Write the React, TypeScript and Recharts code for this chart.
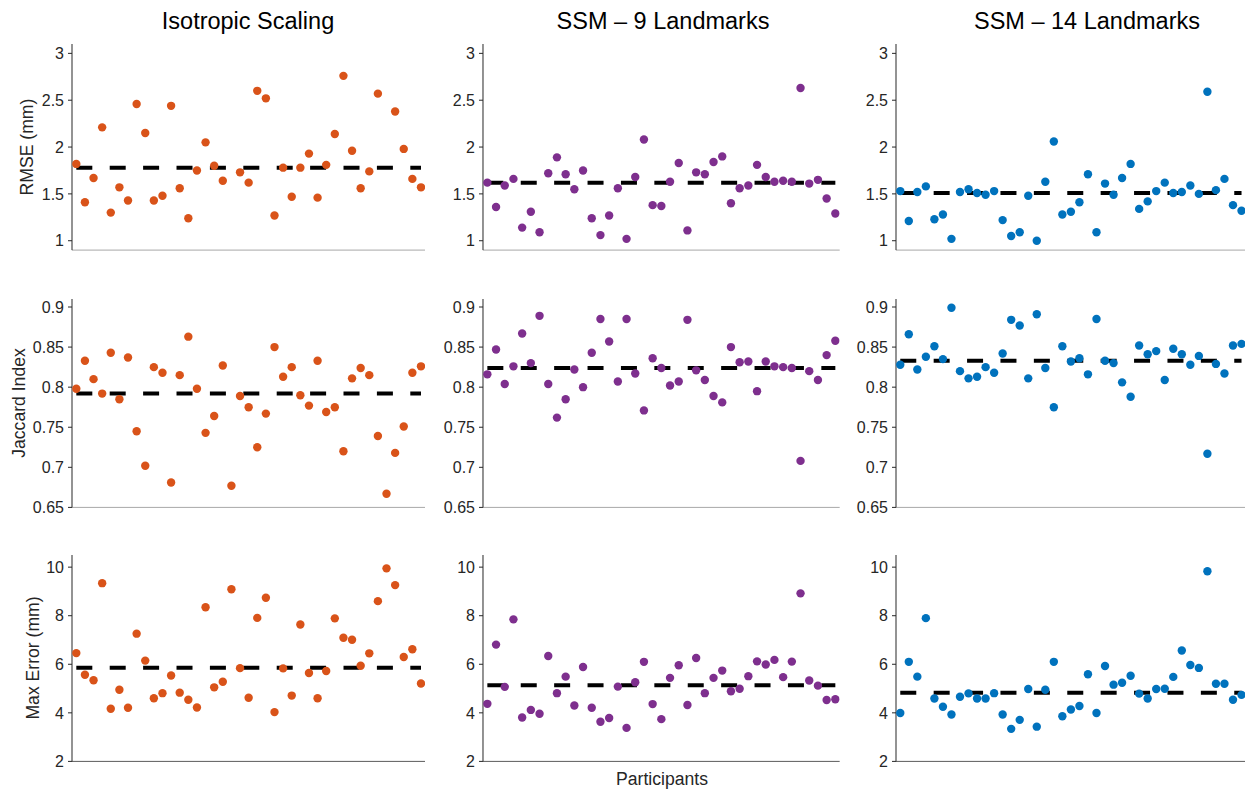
import React from "react";
import { ReferenceLine, Scatter, ScatterChart, XAxis, YAxis } from "recharts";

// Per-participant scores (41 participants). null = value above the plotted range.
const rmseIso = [1.82, 1.41, 1.67, 2.21, 1.3, 1.57, 1.43, 2.46, 2.15, 1.43, 1.48, 2.44, 1.56, 1.24, 1.75, 2.05, 1.8, 1.64, null, 1.73, 1.62, 2.6, 2.52, 1.27, 1.78, 1.47, 1.78, 1.93, 1.46, 1.81, 2.14, 2.76, 1.96, 1.56, 1.74, 2.57, null, 2.38, 1.98, 1.66, 1.57];
const rmseSsm9 = [1.62, 1.36, 1.59, 1.66, 1.14, 1.31, 1.09, 1.72, 1.89, 1.71, 1.55, 1.75, 1.24, 1.06, 1.27, 1.56, 1.02, 1.68, 2.08, 1.38, 1.37, 1.63, 1.83, 1.11, 1.73, 1.71, 1.84, 1.9, 1.4, 1.56, 1.59, 1.81, 1.68, 1.63, 1.64, 1.63, 2.63, 1.61, 1.65, 1.45, 1.29];
const rmseSsm14 = [1.53, 1.21, 1.52, 1.58, 1.23, 1.28, 1.02, 1.52, 1.55, 1.51, 1.49, 1.53, 1.22, 1.05, 1.09, 1.48, 1.0, 1.63, 2.06, 1.28, 1.31, 1.41, 1.71, 1.09, 1.61, 1.49, 1.67, 1.82, 1.34, 1.42, 1.53, 1.62, 1.51, 1.52, 1.59, 1.5, 2.59, 1.54, 1.66, 1.38, 1.32];

const jaccIso = [0.798, 0.833, 0.81, 0.792, 0.843, 0.785, 0.837, 0.745, 0.702, 0.825, 0.818, 0.681, 0.815, 0.863, 0.798, 0.743, 0.764, 0.827, 0.677, 0.789, 0.775, 0.725, 0.767, 0.85, 0.813, 0.825, 0.79, 0.777, 0.833, 0.769, 0.775, 0.72, 0.811, 0.824, 0.815, 0.739, 0.667, 0.718, 0.751, 0.818, 0.826];
const jaccSsm9 = [0.816, 0.847, 0.804, 0.826, 0.867, 0.83, 0.889, 0.804, 0.762, 0.785, 0.822, 0.8, 0.843, 0.885, 0.857, 0.807, 0.885, 0.817, 0.771, 0.836, 0.824, 0.802, 0.807, 0.884, 0.821, 0.809, 0.789, 0.781, 0.85, 0.831, 0.832, 0.795, 0.832, 0.826, 0.825, 0.824, 0.708, 0.82, 0.809, 0.84, 0.858];
const jaccSsm14 = [0.828, 0.866, 0.822, 0.838, 0.851, 0.835, 0.899, 0.82, 0.811, 0.813, 0.825, 0.818, 0.842, 0.884, 0.877, 0.811, 0.891, 0.824, 0.775, 0.851, 0.832, 0.836, 0.816, 0.885, 0.833, 0.83, 0.806, 0.788, 0.852, 0.841, 0.845, 0.809, 0.848, 0.841, 0.828, 0.839, 0.717, 0.829, 0.817, 0.852, 0.854];

const maxIso = [6.46, 5.57, 5.34, 9.34, 4.17, 4.95, 4.21, 7.26, 6.15, 4.6, 4.81, 5.54, 4.83, 4.54, 4.22, 8.35, 5.05, 5.28, 9.09, 5.84, 4.62, 7.91, 8.74, 4.03, 5.83, 4.71, 7.64, 5.64, 4.6, 5.72, 7.89, 7.09, 7.01, 5.94, 6.45, 8.6, 9.95, 9.26, 6.3, 6.62, 5.21];
const maxSsm9 = [4.37, 6.81, 5.07, 7.85, 3.81, 4.12, 3.96, 6.34, 4.81, 5.49, 4.3, 5.89, 4.21, 3.63, 3.79, 5.08, 3.38, 5.26, 6.1, 4.36, 3.74, 5.44, 5.96, 4.32, 6.26, 4.81, 5.44, 5.74, 4.89, 4.99, 5.51, 6.12, 5.99, 6.18, 5.47, 6.11, 8.92, 5.33, 5.12, 4.53, 4.56];
const maxSsm14 = [3.99, 6.1, 5.49, 7.9, 4.59, 4.25, 3.93, 4.66, 4.8, 4.59, 4.59, 4.81, 3.93, 3.34, 3.71, 4.98, 3.43, 4.95, 6.1, 3.86, 4.14, 4.28, 5.59, 3.99, 5.93, 5.16, 5.24, 5.53, 4.79, 4.59, 4.98, 4.99, 5.48, 6.57, 5.97, 5.85, 9.83, 5.2, 5.2, 4.54, 4.74];

// Group means (dashed lines)
const rmseMeans = [1.78, 1.62, 1.51];
const jaccMeans = [0.792, 0.824, 0.833];
const maxMeans = [5.86, 5.14, 4.83];

const methods = ["Isotropic Scaling", "SSM – 9 Landmarks", "SSM – 14 Landmarks"];
const colors = ["#D95319", "#7E2F8E", "#0072BD"];
const metricLabels = ["RMSE (mm)", "Jaccard Index", "Max Error (mm)"];
const rmseTicks = [1, 1.5, 2, 2.5, 3];
const jaccTicks = [0.65, 0.7, 0.75, 0.8, 0.85, 0.9];
const maxTicks = [2, 4, 6, 8, 10];

const FONT = "'Liberation Sans', Arial, Helvetica, sans-serif";
const TEXT = "#262626";
const YW = 70;
const PAD = 14; // room under the plot so the lowest tick label is not clipped

const cols = [
  { left: 71.7, right: 425 },
  { left: 483.3, right: 840 },
  { left: 895.7, right: 1245.5 },
];

const rows = [
  { top: 44.3, bottom: 250.4, domain: [0.9, 3.1], ticks: rmseTicks, series: [rmseIso, rmseSsm9, rmseSsm14], means: rmseMeans, xLine: "#a8a8a8" },
  { top: 299.3, bottom: 507.7, domain: [0.65, 0.91], ticks: jaccTicks, series: [jaccIso, jaccSsm9, jaccSsm14], means: jaccMeans, xLine: "#a8a8a8" },
  { top: 554.6, bottom: 761, domain: [2, 10.5], ticks: maxTicks, series: [maxIso, maxSsm9, maxSsm14], means: maxMeans, xLine: "#5a5a5a" },
];

type PanelProps = {
  col: { left: number; right: number };
  row: (typeof rows)[number];
  values: (number | null)[];
  mean: number;
  color: string;
};

function Panel({ col, row, values, mean, color }: PanelProps) {
  const pts = values
    .map((v, i) => ({ x: i + 1, y: v }))
    .filter((p) => p.y !== null);
  const width = col.right - col.left + YW;
  const height = row.bottom - row.top + 1 + PAD;
  return (
    <div style={{ position: "absolute", left: col.left - YW, top: row.top }}>
      <ScatterChart width={width} height={height} margin={{ top: 0, right: 0, bottom: PAD, left: 0 }}>
        <XAxis
          type="number"
          dataKey="x"
          domain={[0.5, 41.5]}
          allowDataOverflow
          tick={false}
          tickLine={false}
          height={1}
          axisLine={{ stroke: row.xLine, strokeWidth: 1 }}
        />
        <YAxis
          type="number"
          dataKey="y"
          domain={row.domain}
          allowDataOverflow
          ticks={row.ticks}
          interval={0}
          width={YW}
          tickSize={4}
          tickMargin={4}
          axisLine={{ stroke: TEXT, strokeWidth: 1 }}
          tickLine={{ stroke: TEXT }}
          tick={{ fill: TEXT, fontSize: 16, fontFamily: FONT }}
        />
        <Scatter
          data={pts}
          isAnimationActive={false}
          shape={(p: any) => <circle cx={p.cx} cy={p.cy} r={4.2} fill={color} />}
        />
        <ReferenceLine
          segment={[
            { x: 1, y: mean },
            { x: 41, y: mean },
          ]}
          stroke="#000"
          strokeWidth={4}
          strokeDasharray="16 17.4"
        />
      </ScatterChart>
    </div>
  );
}

const labelX = [33, 24.5, 39];
const labelY = [147, 403, 658];
const titleX = [248, 663, 1087];

export default function App() {
  return (
    <div style={{ position: "absolute", left: 0, top: 0, width: 1247, height: 791, background: "#fff", fontFamily: FONT }}>
      {rows.map((row, r) =>
        cols.map((col, c) => (
          <Panel key={`${r}-${c}`} col={col} row={row} values={row.series[c]} mean={row.means[c]} color={colors[c]} />
        ))
      )}
      <svg width={1247} height={791} style={{ position: "absolute", left: 0, top: 0, pointerEvents: "none" }}>
        {methods.map((m, i) => (
          <text key={m} x={titleX[i]} y={29} textAnchor="middle" fontSize={23.5} fill="#000" fontFamily={FONT}>
            {m}
          </text>
        ))}
        {metricLabels.map((l, i) => (
          <text
            key={l}
            transform={`translate(${labelX[i]},${labelY[i]}) rotate(-90)`}
            textAnchor="middle"
            fontSize={17.6}
            fill={TEXT}
            fontFamily={FONT}
          >
            {l}
          </text>
        ))}
        <text x={662} y={784.5} textAnchor="middle" fontSize={17.6} fill={TEXT} fontFamily={FONT}>
          Participants
        </text>
      </svg>
    </div>
  );
}
